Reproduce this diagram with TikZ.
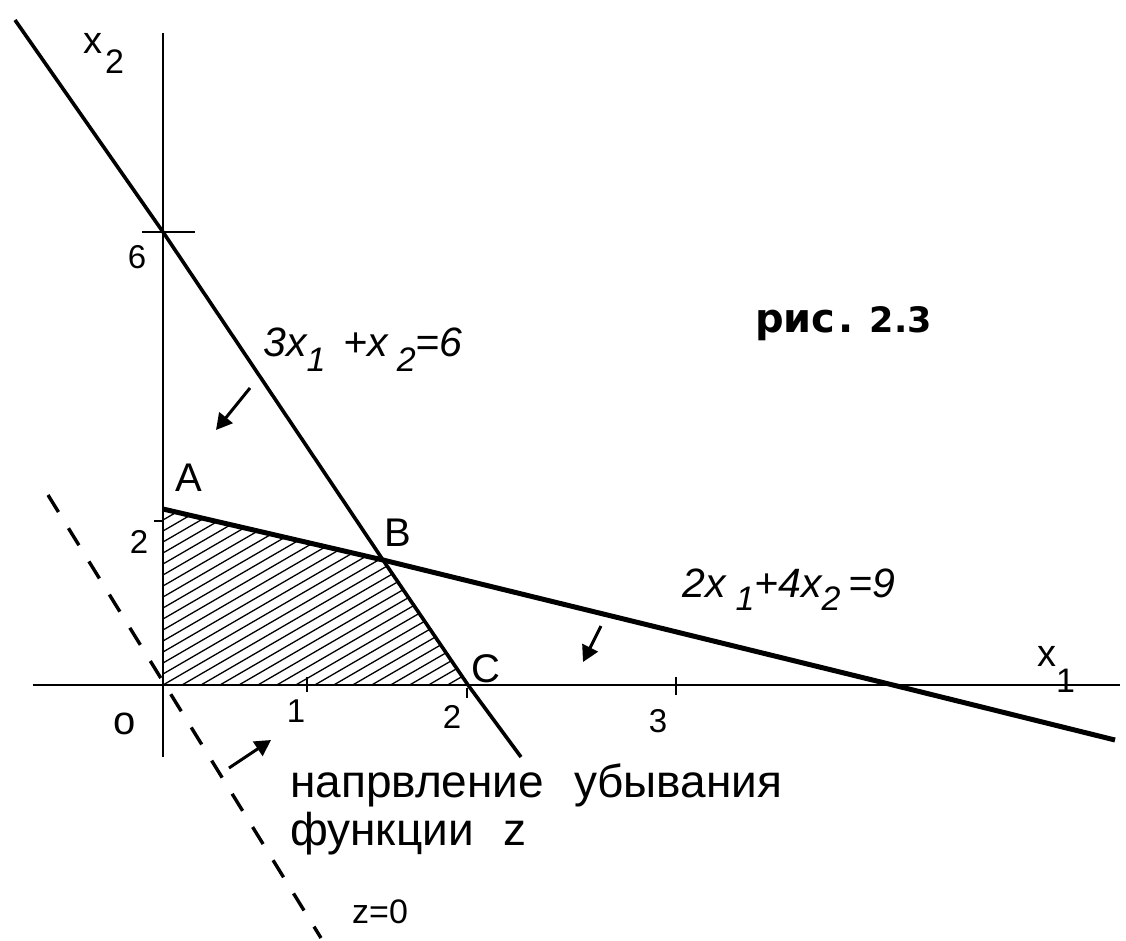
\documentclass[tikz,border=0pt]{standalone}
\usepackage{fontspec}
\setmainfont{Liberation Sans}
\newfontfamily\djv{DejaVu Sans}
\usetikzlibrary{arrows.meta}
\begin{document}
\begin{tikzpicture}[x=1pt,y=-1pt,
  axisline/.style={line width=2.6pt},
  consA/.style={line width=3.6pt},
  consB/.style={line width=5pt},
  hatchline/.style={line width=1.3pt},
  tickline/.style={line width=2pt},
  zline/.style={line width=3.4pt, dash pattern=on 20pt off 19pt},
  dirarrow/.style={line width=3pt, -{Triangle[length=16pt,width=17pt]}},
  lbl/.style={inner sep=0pt, font=\fontsize{46}{50}\selectfont},
  numlbl/.style={inner sep=0pt, font=\fontsize{33}{34}\selectfont},
  ptlbl/.style={inner sep=0pt, font=\fontsize{40}{42}\selectfont},
  eqlbl/.style={inner sep=0pt, font=\fontsize{41}{42}\selectfont\itshape},
  axlbl/.style={inner sep=0pt, font=\fontsize{38}{40}\selectfont}]
\useasboundingbox (0,0) rectangle (1126,940);

% key points
\coordinate (O) at (163,685);
\coordinate (A) at (163,509);
\coordinate (B) at (383,560);
\coordinate (C) at (468,685);
\coordinate (P6) at (163,232);
\coordinate (L1s) at (15,20);
\coordinate (L1e) at (521,757);
\coordinate (L2x) at (893,685);
\coordinate (L2e) at (1115,740);
\coordinate (Yt) at (163,33);
\coordinate (Yb) at (163,757);
\coordinate (Xl) at (33,685);
\coordinate (Xr) at (1120,685);
\coordinate (Zs) at (48,495);
\coordinate (Ze) at (321,938);

% hatching of feasible region
\begin{scope}
  \clip (O) -- (A) -- (B) -- (C) -- cycle;
  \foreach \k in {-17,...,18}{
    \draw[hatchline] (163,{685-\k*11}) -- (480,{685-\k*11-0.58*317});
  }
\end{scope}

% axes
\draw[axisline] (Yt) -- (Yb);
\draw[axisline] (Xl) -- (Xr);

% ticks
\draw[tickline] (142,232) -- (195,232);
\draw[tickline] (154,521) -- (163,521);
\draw[tickline] (307,677) -- (307,692);
\draw[tickline] (676,677) -- (676,695);
\draw[tickline] (467,688) -- (467,698);

% constraint lines
\draw[consA] (L1s) -- (P6) -- (B) -- (C) -- (L1e);
\draw[consB] (A) -- (B) -- (L2x) -- (L2e);

% z = 0 line
\draw[zline] (Zs) -- (Ze);

% direction arrows
\draw[dirarrow] (250,388) -- (216,430);
\draw[dirarrow] (601,626) -- (583,662);
\draw[dirarrow] (229,768) -- (271,740);

% labels
\node[axlbl, anchor=base west] (x2lbl) at (83,53) {x\hspace{3pt}\raisebox{-20pt}{\fontsize{34}{34}\selectfont 2}};
\node[axlbl, anchor=base west] (x1lbl) at (1037,666) {x\raisebox{-26pt}{\fontsize{34}{34}\selectfont 1}};
\node[numlbl] (n6) at (137,257) {6};
\node[numlbl] (n2y) at (139,542) {2};
\node[numlbl] (n1) at (296,711) {1};
\node[numlbl] (n2x) at (452,717) {2};
\node[numlbl] (n3) at (658,721) {3};
\node[inner sep=0pt, font=\fontsize{40}{42}\selectfont] (no) at (125,724) {o};
\node[ptlbl] (lA) at (189,478) {A};
\node[ptlbl] (lB) at (398,533) {B};
\node[ptlbl] (lC) at (486,669) {C};

\node[eqlbl, anchor=base west] (eq1) at (263,356)
  {3x\raisebox{-15pt}{\fontsize{34}{34}\selectfont 1}\hspace{18pt}+x\hspace{9pt}\raisebox{-15pt}{\fontsize{34}{34}\selectfont 2}=6};
\node[eqlbl, anchor=base west] (eq2) at (682,597)
  {2x\hspace{10pt}\raisebox{-13pt}{\fontsize{34}{34}\selectfont 1}+4x\raisebox{-13pt}{\fontsize{34}{34}\selectfont 2}\hspace{8pt}=9};

\node[inner sep=0pt, anchor=base west, font=\djv\bfseries\fontsize{40}{42}\selectfont] (fig) at (755,332)
  {рис\hspace{3pt}.\hspace{16pt}{\fontsize{35}{36}\selectfont 2.3}};

\node[lbl, anchor=base west] (t1) at (290,797) {напрвление\hspace{0.65em}убывания};
\node[lbl, anchor=base west] (t2) at (290,845) {функции\hspace{0.65em}z};
\node[inner sep=0pt, anchor=base west, font=\fontsize{34}{36}\selectfont] (t3) at (352,923) {z=0};
\end{tikzpicture}
\end{document}
